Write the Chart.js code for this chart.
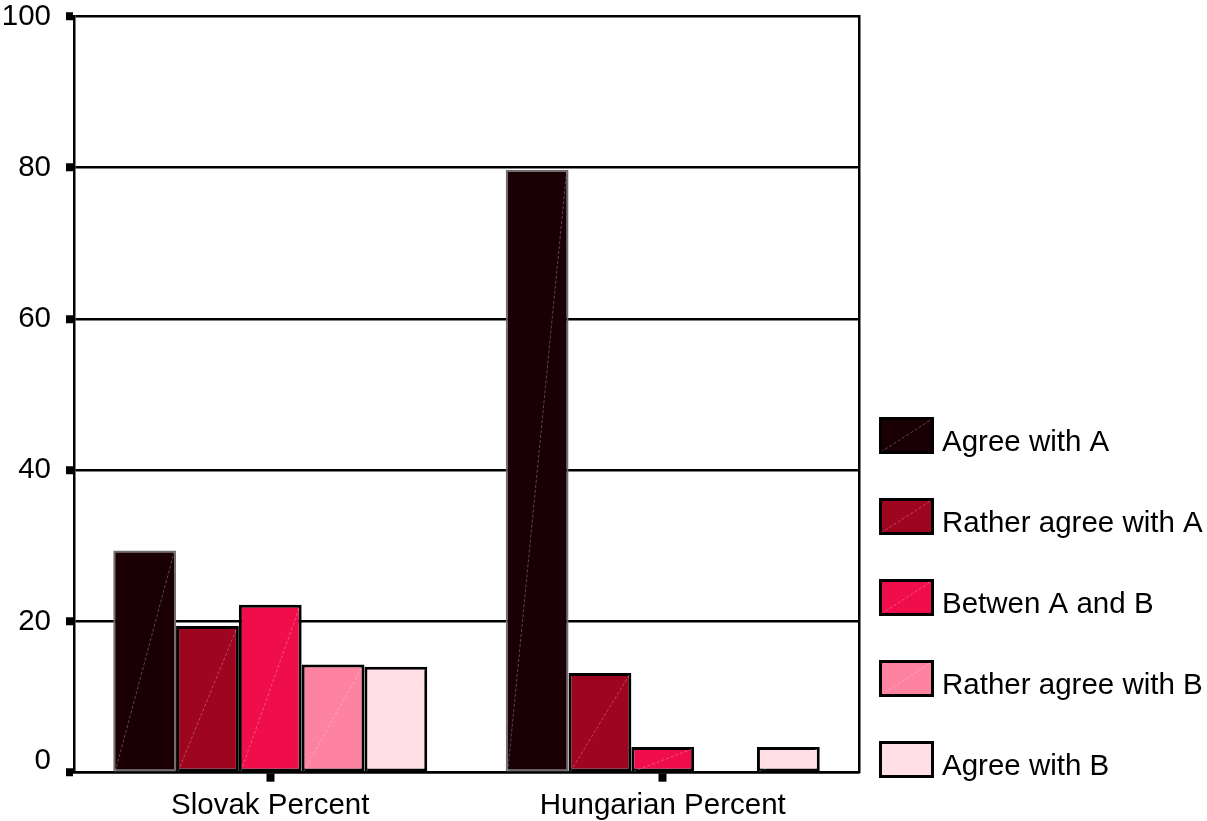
<!DOCTYPE html>
<html>
<head>
<meta charset="utf-8">
<style>
  html, body { margin: 0; padding: 0; background: #ffffff; }
  #wrap { width: 1207px; height: 821px; }
</style>
<script src="https://cdn.jsdelivr.net/npm/chart.js@4/dist/chart.umd.min.js"></script>
</head>
<body>
<div id="wrap"><canvas id="chart" width="1207" height="821"></canvas></div>
<script>
// Survey answers by group (percent)
const groups = ['Slovak Percent', 'Hungarian Percent'];
const answerLabels = ['Agree with A', 'Rather agree with A', 'Betwen A and B', 'Rather agree with B', 'Agree with B'];
const agreeA = [29.4, 79.7];
const ratherA = [19.4, 13.2];
const betweenAB = [22.2, 3.4];
const ratherB = [14.3, 0];
const agreeB = [14.0, 3.4];
const yTicks = [0, 20, 40, 60, 80, 100];

const fills = ['#1a0004', '#9e051f', '#f00d4c', '#fd83a0', '#ffdfe5'];
const edges = ['#6f6f6f', '#000000', '#000000', '#000000', '#000000'];
const edgeWidths = [2, 3, 3, 3, 3];
const seriesValues = [agreeA, ratherA, betweenAB, ratherB, agreeB];

const FONT = "'Liberation Sans', Arial, Helvetica, sans-serif";
Chart.defaults.color = '#000000';
Chart.defaults.font.family = FONT;

// Faint diagonal seam across every bar and legend swatch
function seam(ctx, x0, y0, x1, y1) {
  ctx.save();
  ctx.strokeStyle = 'rgba(255,255,255,0.28)';
  ctx.lineWidth = 1;
  ctx.setLineDash([3, 2]);
  ctx.beginPath();
  ctx.moveTo(x0, y0);
  ctx.lineTo(x1, y1);
  ctx.stroke();
  ctx.restore();
}

const seamPlugin = {
  id: 'barSeams',
  afterDatasetsDraw(chart) {
    const ctx = chart.ctx;
    chart.data.datasets.forEach((ds, i) => {
      const meta = chart.getDatasetMeta(i);
      meta.data.forEach(bar => {
        const p = bar.getProps(['x', 'y', 'base', 'width'], true);
        if (Math.abs(p.base - p.y) < 2) return;
        seam(ctx, p.x - p.width / 2 + 2, p.base, p.x + p.width / 2 - 2, p.y + 2);
      });
    });
  }
};

// Legend column at the right of the plot
const sideLegend = {
  id: 'sideLegend',
  afterDraw(chart) {
    const ctx = chart.ctx;
    const x = chart.chartArea.right + 20;
    const firstTop = 417;
    const step = 81;
    const bw = 55, bh = 37;
    chart.data.datasets.forEach((ds, i) => {
      const top = firstTop + i * step;
      ctx.save();
      ctx.fillStyle = ds.backgroundColor;
      ctx.fillRect(x, top, bw, bh);
      seam(ctx, x + 2, top + bh - 2, x + bw - 2, top + 2);
      ctx.strokeStyle = '#000000';
      ctx.lineWidth = 3;
      ctx.strokeRect(x + 1.5, top + 1.5, bw - 3, bh - 3);
      ctx.fillStyle = '#000000';
      ctx.font = '29.5px ' + FONT;
      ctx.textAlign = 'left';
      ctx.textBaseline = 'alphabetic';
      ctx.fillText(ds.label, x + 63, top + 34);
      ctx.restore();
    });
  }
};

new Chart(document.getElementById('chart'), {
  type: 'bar',
  data: {
    labels: groups,
    datasets: answerLabels.map((name, i) => ({
      label: name,
      data: seriesValues[i],
      backgroundColor: fills[i],
      borderColor: edges[i],
      borderWidth: edgeWidths[i],
      borderSkipped: false,
      categoryPercentage: 0.8,
      barPercentage: 1.0
    }))
  },
  options: {
    responsive: false,
    animation: false,
    layout: { padding: { left: 0, right: 348, top: 16.5, bottom: 0 } },
    plugins: {
      legend: { display: false },
      tooltip: { enabled: false }
    },
    scales: {
      x: {
        offset: true,
        grid: {
          display: true,
          drawOnChartArea: false,
          drawTicks: true,
          offset: false,
          tickLength: 9,
          tickWidth: 8,
          tickColor: '#000000'
        },
        border: { display: true, color: '#000000', width: 2.5 },
        ticks: {
          padding: 9,
          font: { size: 29.5, lineHeight: 1 },
          color: '#000000',
          maxRotation: 0
        },
        afterFit(scale) {
          scale.height = 48.3;
          scale.paddingLeft = 0;
          scale.paddingRight = 0;
        }
      },
      y: {
        min: 0,
        max: 100,
        afterBuildTicks(scale) { scale.ticks = yTicks.map(v => ({ value: v })); },
        grid: {
          color: '#000000',
          lineWidth: 2.5,
          drawTicks: true,
          tickLength: 8,
          tickWidth: 8,
          tickColor: '#000000'
        },
        border: { display: true, color: '#000000', width: 2.5 },
        ticks: {
          padding: 15,
          font: { size: 29.5, lineHeight: '24px' },
          color: '#000000',
          callback: v => (v === 0 ? ['0', ''] : String(v))
        },
        afterFit(scale) {
          scale.width = 74;
          scale.paddingTop = 0;
          scale.paddingBottom = 0;
        }
      },
      yFrame: {
        position: 'right',
        min: 0,
        max: 100,
        grid: { display: false, drawTicks: false },
        ticks: { display: false },
        border: { display: true, color: '#000000', width: 2.5 },
        afterFit(scale) {
          scale.width = 0;
          scale.paddingTop = 0;
          scale.paddingBottom = 0;
        }
      }
    }
  },
  plugins: [seamPlugin, sideLegend]
});
</script>
</body>
</html>
